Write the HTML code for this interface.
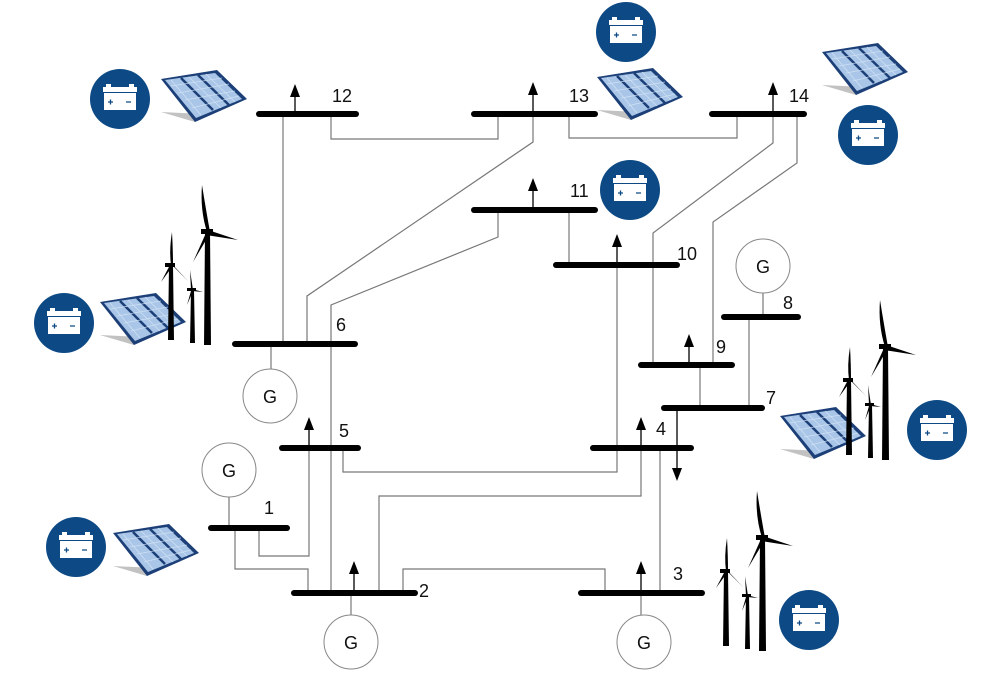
<!DOCTYPE html>
<html><head><meta charset="utf-8"><style>
html,body{margin:0;padding:0;background:#fff;}
svg{display:block;}
text{font-family:"Liberation Sans",sans-serif;font-size:18px;fill:#111;}
</style></head><body>
<svg width="1002" height="683" viewBox="0 0 1002 683" xmlns="http://www.w3.org/2000/svg">
<defs>
<g id="bat">
<circle r="30" fill="#0d4a85"/>
<rect x="-17" y="-12" width="34" height="5" fill="#fff"/>
<rect x="-16" y="-6" width="32" height="17" fill="#fff"/>
<rect x="-14" y="-15" width="5" height="3" fill="#fff"/>
<rect x="9" y="-15" width="5" height="3" fill="#fff"/>
<path d="M-12 3h5M-9.5 0.5v5M6 3h5" stroke="#0d4a85" stroke-width="1.3"/>
</g>
<g id="sol">
<polygon points="0,42 34,52 42,44" fill="#999" opacity="0.6"/>
<polygon points="0,9 56,0 86,29 34,52" fill="#1c3f78"/>
<polygon points="4,10 54,3 81,29 35,48" fill="#a9c6e8"/>
<path d="M20,8 L52,40 M37,5 L68,35" stroke="#1c3f78" stroke-width="2.5"/>
<path d="M10,16 L61,8 M17,23 L68,14 M24,30 L74,21 M31,38 L78,26 M10,10 L40,45 M28,7 L60,38 M45,4 L74,32" stroke="#d8e6f5" stroke-width="0.8" opacity="0.8"/>
</g>
<g id="wind">
<polygon points="205,232 210,232 211,345 204,345" fill="#000"/>
<path d="M207,232 Q200,210 202,185 Q206,210 210,232Z" fill="#000"/>
<path d="M208,230 L238,240 L206,235Z" fill="#000"/>
<path d="M206,233 L193,262 L209,235Z" fill="#000"/>
<rect x="201" y="229" width="12" height="5" fill="#000"/>
<polygon points="169,265 173,265 174,340 168,340" fill="#000"/>
<path d="M171,265 Q169,250 172,232 Q173,250 173,265Z" fill="#000"/>
<path d="M171,263 L188,281 L173,266Z" fill="#000"/>
<path d="M170,265 L161,282 L172,267Z" fill="#000"/>
<rect x="165" y="263" width="10" height="4" fill="#000"/>
<polygon points="191,290 194,290 195,343 190,343" fill="#000"/>
<path d="M191,290 L190,270 L193,290Z" fill="#000"/>
<path d="M192,289 L203,292 L192,291Z" fill="#000"/>
<path d="M191,291 L187,305 L193,291Z" fill="#000"/>
<rect x="187" y="288" width="9" height="3" fill="#000"/>
</g>
<polygon id="up" points="-5,13 0,0 5,13" fill="#000"/>
</defs>

<g fill="none" stroke="#777" stroke-width="1.2">
<path d="M331,114 V139 H498 V114"/>
<path d="M569,114 V138 H737 V114"/>
<path d="M283,114 V344"/>
<path d="M307,344 V296 L533,142 V114"/>
<path d="M331,593 V305 L498,237 V210"/>
<path d="M569,210 V265"/>
<path d="M653,365 V233 L773,143 V114"/>
<path d="M713,365 V222 L797,163 V114"/>
<path d="M617,265 V472 H343 V448"/>
<path d="M641,448 V496 H379 V593"/>
<path d="M403,593 V569 H605 V593"/>
<path d="M660,593 V448"/>
<path d="M700,408 V365"/>
<path d="M749,408 V317"/>
<path d="M763,317 V293"/>
<path d="M309,448 V556 H259 V528"/>
<path d="M235,528 V569 H308 V593"/>
<path d="M271,344 V370"/>
<path d="M229,497 V528"/>
<path d="M351,593 V615"/>
<path d="M641,593 V615"/>
</g>
<!-- loads -->
<g stroke="#000" stroke-width="1.3">
<line x1="295" y1="114" x2="295" y2="90"/>
<line x1="533" y1="114" x2="533" y2="88"/>
<line x1="773" y1="114" x2="773" y2="88"/>
<line x1="533" y1="210" x2="533" y2="184"/>
<line x1="617" y1="265" x2="617" y2="240"/>
<line x1="689" y1="365" x2="689" y2="340"/>
<line x1="641" y1="448" x2="641" y2="423"/>
<line x1="309" y1="448" x2="309" y2="423"/>
<line x1="354" y1="593" x2="354" y2="567"/>
<line x1="641" y1="593" x2="641" y2="567"/>
<line x1="677" y1="408" x2="677" y2="472"/>
</g>
<use href="#up" x="295" y="84"/>
<use href="#up" x="533" y="82"/>
<use href="#up" x="773" y="82"/>
<use href="#up" x="533" y="178"/>
<use href="#up" x="617" y="234"/>
<use href="#up" x="689" y="334"/>
<use href="#up" x="641" y="417"/>
<use href="#up" x="309" y="417"/>
<use href="#up" x="354" y="561"/>
<use href="#up" x="641" y="561"/>
<polygon points="672,468 682,468 677,481" fill="#000"/>
<!-- buses -->
<g stroke="#000" stroke-width="6" stroke-linecap="round">
<line x1="259" y1="114" x2="356" y2="114"/>
<line x1="474" y1="114" x2="595" y2="114"/>
<line x1="712" y1="114" x2="804" y2="114"/>
<line x1="474" y1="210" x2="595" y2="210"/>
<line x1="556" y1="265" x2="677" y2="265"/>
<line x1="235" y1="344" x2="355" y2="344"/>
<line x1="724" y1="317" x2="798" y2="317"/>
<line x1="641" y1="365" x2="732" y2="365"/>
<line x1="664" y1="408" x2="762" y2="408"/>
<line x1="593" y1="448" x2="691" y2="448"/>
<line x1="282" y1="448" x2="358" y2="448"/>
<line x1="211" y1="528" x2="287" y2="528"/>
<line x1="294" y1="593" x2="415" y2="593"/>
<line x1="581" y1="593" x2="702" y2="593"/>
</g>
<g fill="#fff" stroke="#888" stroke-width="1">
<circle cx="270" cy="396" r="27"/>
<circle cx="229" cy="470" r="27"/>
<circle cx="351" cy="642" r="27"/>
<circle cx="644" cy="642" r="27"/>
<circle cx="763" cy="266" r="27"/>
</g>
<g text-anchor="middle">
<text x="270" y="403">G</text><text x="229" y="477">G</text><text x="351" y="649">G</text><text x="644" y="649">G</text><text x="763" y="273">G</text>
</g>
<text x="332" y="102">12</text>
<text x="569" y="102">13</text>
<text x="789" y="102">14</text>
<text x="570" y="197">11</text>
<text x="677" y="260">10</text>
<text x="336" y="331">6</text>
<text x="783" y="309">8</text>
<text x="716" y="353">9</text>
<text x="766" y="404">7</text>
<text x="656" y="435">4</text>
<text x="339" y="437">5</text>
<text x="264" y="514">1</text>
<text x="419" y="597">2</text>
<text x="673" y="580">3</text>
<use href="#bat" x="120" y="99"/>
<use href="#bat" x="64" y="323"/>
<use href="#bat" x="626" y="32"/>
<use href="#bat" x="868" y="135"/>
<use href="#bat" x="630" y="190"/>
<use href="#bat" x="937" y="430"/>
<use href="#bat" x="809" y="620"/>
<use href="#bat" x="76" y="547"/>
<use href="#sol" x="161" y="70"/>
<use href="#sol" x="597" y="68"/>
<use href="#sol" x="822" y="43"/>
<use href="#sol" x="100" y="293"/>
<use href="#sol" x="780" y="407"/>
<use href="#sol" x="113" y="524"/>
<use href="#wind" x="0" y="0"/>
<use href="#wind" x="678" y="115"/>
<use href="#wind" x="555" y="306"/>
</svg>
</body></html>
